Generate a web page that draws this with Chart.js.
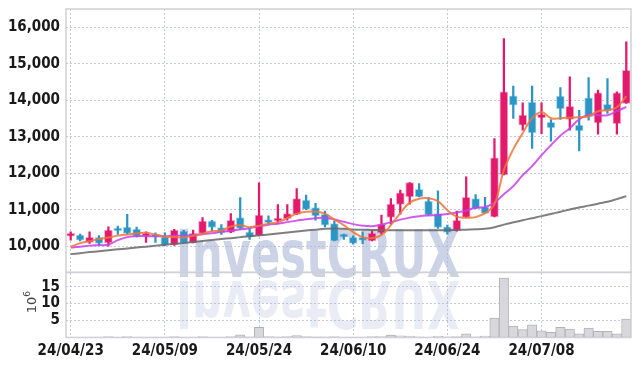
<!DOCTYPE html>
<html><head><meta charset="utf-8">
<script src="https://cdn.jsdelivr.net/npm/chart.js@4.4.1/dist/chart.umd.min.js"></script>
<style>html,body{margin:0;padding:0;background:#fff}#wrap{width:639px;height:366px}</style>
</head><body><div id="wrap"><canvas id="c" width="639" height="366"></canvas></div>
<script>
const dates = ["24/04/23","24/04/24","24/04/25","24/04/26","24/04/29","24/04/30","24/05/02","24/05/03","24/05/07","24/05/08",
"24/05/09","24/05/10","24/05/13","24/05/14","24/05/16","24/05/17","24/05/20","24/05/21","24/05/22","24/05/23",
"24/05/24","24/05/27","24/05/28","24/05/29","24/05/30","24/05/31","24/06/03","24/06/04","24/06/05","24/06/07",
"24/06/10","24/06/11","24/06/12","24/06/13","24/06/14","24/06/17","24/06/18","24/06/19","24/06/20","24/06/21",
"24/06/24","24/06/25","24/06/26","24/06/27","24/06/28","24/07/01","24/07/02","24/07/03","24/07/04","24/07/05",
"24/07/08","24/07/09","24/07/10","24/07/11","24/07/12","24/07/15","24/07/16","24/07/17","24/07/18","24/07/19"];
const openP  = [10270,10300,10100,10240,10090,10425,10520,10470,10270,10260,10255,10030,10410,10090,10350,10685,10510,10375,10785,10385,
10285,10655,10690,10750,10870,11260,11060,10875,10620,10260,10240,10170,10145,10365,10785,11140,11350,11560,11235,10895,
10530,10420,10785,11305,11075,10800,11950,14120,13315,13950,13515,13395,14110,13470,13315,14065,13380,13890,13360,13910];
const highP  = [10390,10330,10390,10290,10530,10550,10870,10520,10390,10365,10365,10460,10430,10440,10780,10710,10590,10895,11330,10510,
11735,10830,11140,11140,11580,11400,11170,10960,10690,10330,10285,10390,10410,10850,11305,11535,11740,11715,11335,11515,
10575,10960,11900,11415,11335,12950,15690,14385,13925,14385,13925,13470,14345,14640,13725,14620,14275,14595,14230,15600];
const lowP   = [10165,10140,10075,10030,10000,10320,10320,10255,10100,10100,10010,10020,10090,10090,10340,10410,10320,10370,10455,10185,
10280,10595,10620,10710,10860,11000,10710,10530,10140,10185,10055,10070,10140,10330,10600,10875,11150,11350,10850,10485,
10330,10410,10780,11030,10895,10800,11950,13500,13180,12675,13085,12875,13470,13180,12610,13450,13070,13635,13070,13910];
const closeP = [10270,10165,10240,10075,10440,10415,10350,10275,10275,10250,10030,10440,10090,10350,10690,10510,10365,10710,10485,10255,
10850,10645,10695,10895,11305,11005,10830,10575,10145,10250,10075,10160,10350,10600,11150,11460,11740,11350,10850,10510,
10375,10710,11335,11030,10895,12420,14230,13865,13590,13105,13615,13240,13760,13835,13160,13545,14200,13705,14200,14820];
const ma5  = [9981,10082,10137,10192,10238,10288,10320,10348,10365,10315,10266,10247,10238,10283,10342,10411,10425,10540,10575,10520,
10562,10616,10658,10767,10890,10945,10945,10890,10726,10575,10384,10247,10219,10301,10575,10904,11192,11301,11315,11233,
10986,10808,10781,10795,10904,11150,12082,12658,13096,13507,13680,13507,13507,13526,13534,13562,13699,13726,13808,14110];
const ma20 = [9964,9986,10014,10027,10041,10164,10247,10274,10274,10274,10274,10288,10288,10301,10329,10356,10392,10425,10458,10493,
10542,10589,10616,10658,10699,10740,10767,10775,10732,10666,10603,10562,10548,10589,10658,10726,10781,10822,10841,10849,
10882,10923,10973,11055,11068,11192,11425,11644,11945,12192,12493,12767,13027,13233,13479,13603,13589,13589,13699,13816];
const ma60 = [9781,9808,9836,9860,9885,9912,9937,9962,9986,10014,10038,10063,10088,10115,10142,10167,10195,10219,10247,10274,
10296,10320,10348,10375,10400,10427,10452,10474,10485,10474,10458,10449,10444,10438,10438,10438,10438,10438,10438,10438,
10438,10444,10452,10460,10477,10520,10589,10652,10712,10767,10822,10882,10942,11003,11060,11110,11162,11214,11288,11370];
const volumeM = [0.1,0.1,0.1,0.1,0.3,0.1,0.3,0.1,0.1,0.1,0.1,0.3,0.1,0.1,0.3,0.1,0.1,0.3,0.8,0.2,
3.0,0.3,0.2,0.3,0.6,0.3,0.2,0.2,0.3,0.1,0.1,0.1,0.3,0.3,0.7,0.5,0.4,0.2,0.1,0.4,
0.2,0.3,1.1,0.2,0.4,5.7,17.5,3.4,2.3,3.7,2.0,1.5,3.0,2.5,1.1,2.8,1.8,1.8,1.1,5.4];
const priceTicks = [10000,11000,12000,13000,14000,15000,16000];
const volumeTicks = [5,10,15];
const labelEvery = 10;

const UP = '#e3196b', DOWN = '#2b96c6';
const UPH = 'rgba(227,25,107,0.35)', DOWNH = 'rgba(43,150,198,0.35)';
const isUp = closeP.map((c,i)=>c>=openP[i]);
const gridCol = 'rgba(150,155,185,0.55)';
const tickFont = {family:'"Liberation Sans Narrow","DejaVu Sans Condensed",sans-serif', size:15, weight:'bold'};

const framePlugin = {
  id:'frame',
  beforeDatasetsDraw(chart){
    const ctx = chart.ctx, a = chart.chartArea;
    ctx.save();
    ctx.beginPath(); ctx.rect(a.left,a.top,a.right-a.left,a.bottom-a.top); ctx.clip();
    const text='InvestCRUX';
    ctx.font='bold 66px "DejaVu Sans",sans-serif';
    const w=ctx.measureText(text).width;
    ctx.translate(176,277); ctx.scale(284/w,1);
    ctx.fillStyle='rgba(170,182,214,0.6)';
    ctx.fillText(text,0,0);
    ctx.scale(1,-1);
    ctx.fillStyle='rgba(170,182,214,0.26)';
    ctx.fillText(text,0,-4);
    ctx.restore();
  },
  afterDraw(chart){
    const ctx = chart.ctx, a = chart.chartArea;
    const y = chart.scales.y, yv = chart.scales.yv;
    ctx.save();
    ctx.strokeStyle='#cfd0d6'; ctx.lineWidth=1.5;
    ctx.strokeRect(a.left, y.top, a.right-a.left, y.bottom-y.top);
    ctx.strokeRect(a.left, yv.top, a.right-a.left, yv.bottom-yv.top);
    ctx.fillStyle='#444';
    ctx.translate(33,(yv.top+yv.bottom)/2);
    ctx.rotate(-Math.PI/2);
    ctx.textAlign='center'; ctx.textBaseline='middle';
    ctx.font='13px "DejaVu Sans",sans-serif';
    ctx.fillText('10',0,0);
    ctx.font='9px "DejaVu Sans",sans-serif';
    ctx.fillText('6',11,-5);
    ctx.restore();
  }
};

function fitY(s){ s.width = 66; s.paddingTop = 0; s.paddingBottom = 0; }

new Chart(document.getElementById('c'), {
  data:{
    labels: dates,
    datasets:[
      {type:'line', label:'MA5', data:ma5, yAxisID:'y', borderColor:'rgba(240,118,58,0.85)', borderWidth:2, pointRadius:0, tension:0.4, order:0},
      {type:'line', label:'MA20', data:ma20, yAxisID:'y', borderColor:'rgba(200,62,235,0.85)', borderWidth:2, pointRadius:0, tension:0.4, order:0},
      {type:'line', label:'MA60', data:ma60, yAxisID:'y', borderColor:'rgba(105,105,105,0.85)', borderWidth:2, pointRadius:0, tension:0.4, order:0},
      {type:'bar', label:'body', data: openP.map((o,i)=>[Math.min(o,closeP[i]),Math.max(o,closeP[i])]), yAxisID:'y',
        backgroundColor: isUp.map(u=>u?UP:DOWN), borderColor: isUp.map(u=>u?UPH:DOWNH), borderWidth:1, borderSkipped:false,
        barThickness:8, minBarLength:3, grouped:false, order:1},
      {type:'bar', label:'wick', data: lowP.map((l,i)=>[l,highP[i]]), yAxisID:'y',
        backgroundColor: isUp.map(u=>u?UP:DOWN), barThickness:1.6, grouped:false, order:2},
      {type:'bar', label:'volume', data: volumeM, yAxisID:'yv', backgroundColor:'#d7d7dc', borderColor:'#b2b2ba', borderWidth:1,
        borderSkipped:false, barPercentage:1, categoryPercentage:1, grouped:false, order:3}
    ]
  },
  options:{
    responsive:false, animation:false, devicePixelRatio:1,
    layout:{padding:{top:9,right:8,left:0,bottom:0}},
    plugins:{legend:{display:false}, tooltip:{enabled:false}},
    scales:{
      x:{type:'category', offset:true,
        grid:{offset:false, drawTicks:false, color:(c)=> (c.index%labelEvery===0 ? gridCol : 'rgba(0,0,0,0)'), lineWidth:1},
        border:{display:false, dash:[2,2]},
        ticks:{autoSkip:false, maxRotation:0, minRotation:0, padding:5, color:'#1a1a1a', font:tickFont,
          callback:(v,i)=> i%labelEvery===0 ? dates[i] : ''},
        afterFit:(s)=>{s.height=28.5;}
      },
      yv:{type:'linear', position:'left', stack:'p', stackWeight:65, min:0, max:19.2,
        grid:{drawTicks:false, color:gridCol}, border:{display:false, dash:[2,2]},
        ticks:{autoSkip:false, padding:6, color:'#1a1a1a', font:tickFont},
        afterBuildTicks:(s)=>{s.ticks = volumeTicks.map(v=>({value:v}));},
        afterFit:fitY
      },
      y:{type:'linear', position:'left', stack:'p', stackWeight:263, min:9280, max:16500,
        grid:{drawTicks:false, color:gridCol}, border:{display:false, dash:[2,2]},
        ticks:{autoSkip:false, padding:6, color:'#1a1a1a', font:tickFont, callback:(v)=>v.toLocaleString('en-US')},
        afterBuildTicks:(s)=>{s.ticks = priceTicks.map(v=>({value:v}));},
        afterFit:fitY
      }
    }
  },
  plugins:[framePlugin]
});
</script></body></html>
